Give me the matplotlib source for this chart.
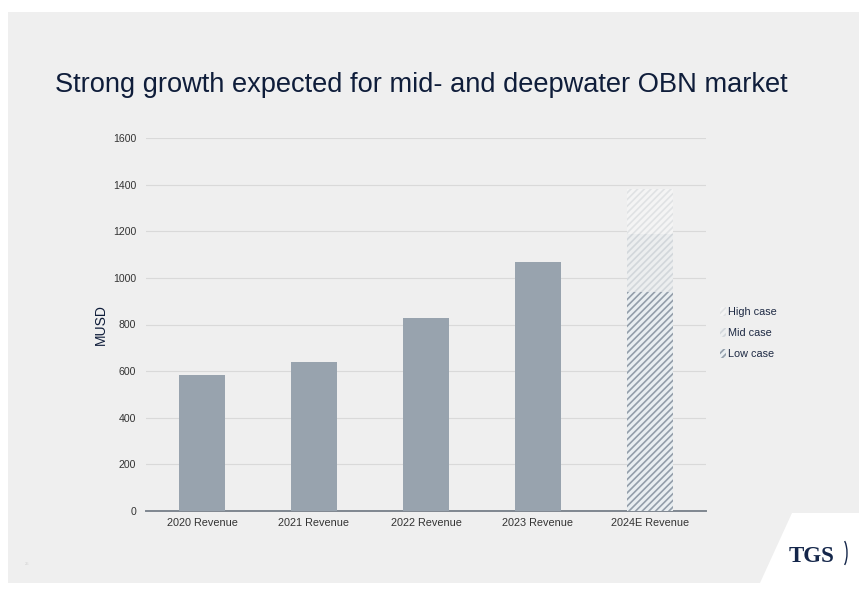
import matplotlib.pyplot as plt
import matplotlib.patches as mpatches
from matplotlib.patches import Rectangle, Polygon, Arc

plt.rcParams['font.family'] = ['Liberation Sans', 'DejaVu Sans']
plt.rcParams['hatch.linewidth'] = 1.2

# revenue (MUSD)
categories = ['2020 Revenue', '2021 Revenue', '2022 Revenue', '2023 Revenue', '2024E Revenue']
revenue = [583, 639, 828, 1068]
# 2024E scenarios, stacked: low, mid increment, high increment
case_names = ['Low case', 'Mid case', 'High case']
case_totals = [940, 1188, 1381]
yticks = [0, 200, 400, 600, 800, 1000, 1200, 1400, 1600]

bar_color = '#98a3ae'
navy = '#0f1d3a'
case_face = ['#e9eef1', '#eceeef', '#f4f4f4']
case_hatch = ['#939eaa', '#d2d7db', '#e0e2e4']

fig = plt.figure(figsize=(8.59, 5.90), dpi=100)
fig.patch.set_facecolor('white')

# slide background
fig.patches.append(Rectangle((8 / 859, 1 - 583 / 590), 1 - 8 / 859, (583 - 12) / 590,
                             transform=fig.transFigure, facecolor='#efefef',
                             edgecolor='none', zorder=-10))
# white corner panel with logo
fig.patches.append(Polygon([(792 / 859, 1 - 513 / 590), (1, 1 - 513 / 590),
                            (1, 1 - 583 / 590), (760 / 859, 1 - 583 / 590)],
                           closed=True, transform=fig.transFigure,
                           facecolor='white', edgecolor='none', zorder=-9))
fig.text(812 / 859, 1 - 557 / 590, 'TGS', family=['Liberation Serif', 'DejaVu Serif'],
         fontsize=16.5, fontweight='bold', color='#14264a', ha='center', va='center')
fig.patches.append(Arc((840 / 859, 1 - 553 / 590), 14 / 859, 32 / 590, theta1=-75, theta2=75,
                       transform=fig.transFigure, color='#14264a', lw=1.0))

fig.text(421 / 859, 1 - 85 / 590, 'Strong growth expected for mid- and deepwater OBN market',
         fontsize=19.6, color=navy, ha='center', va='center')

ax = fig.add_axes([146 / 859, 1 - 511 / 590, (706 - 146) / 859, (511 - 138) / 590])
ax.set_facecolor('none')

x = list(range(len(categories)))
ax.bar(x[:4], revenue, width=0.41, color=bar_color, zorder=3)

bottom = 0
handles = []
for name, total, fc, hc in zip(case_names, case_totals, case_face, case_hatch):
    ax.bar(x[4], total - bottom, width=0.41, bottom=bottom, facecolor=fc,
           edgecolor=hc, hatch='/////', linewidth=0, zorder=3)
    handles.append(mpatches.Patch(facecolor=fc, edgecolor=hc, hatch='/////',
                                  linewidth=0, label=name))
    bottom = total

ax.set_xlim(-0.5, 4.5)
ax.set_ylim(0, 1600)
ax.set_yticks(yticks)
ax.set_xticks(x)
ax.set_xticklabels(categories)
ax.tick_params(axis='y', length=0, labelsize=7.6, colors='#333333', pad=7)
ax.tick_params(axis='x', length=0, labelsize=7.8, colors='#333333', pad=5)
ax.yaxis.grid(True, color='#d9d9d9', linewidth=0.8, zorder=0)
ax.set_axisbelow(True)
for side in ['top', 'right', 'left']:
    ax.spines[side].set_visible(False)
ax.spines['bottom'].set_color('#7f8790')
ax.spines['bottom'].set_linewidth(1.4)
ax.set_ylabel('MUSD', fontsize=10, color=navy, labelpad=4)

leg = fig.legend(handles=handles[::-1], loc='center left',
                 bbox_to_anchor=(716 / 859, 1 - 333 / 590), frameon=False,
                 fontsize=7.8, handlelength=0.55, handleheight=0.9, handletextpad=0.2,
                 labelspacing=1.0, borderaxespad=0)
for t in leg.get_texts():
    t.set_color('#1e2a44')

fig.text(27 / 859, 1 - 564 / 590, '25', fontsize=3, color='#d0d0d0', ha='center', va='center')

fig.savefig('out.png', dpi=100)
